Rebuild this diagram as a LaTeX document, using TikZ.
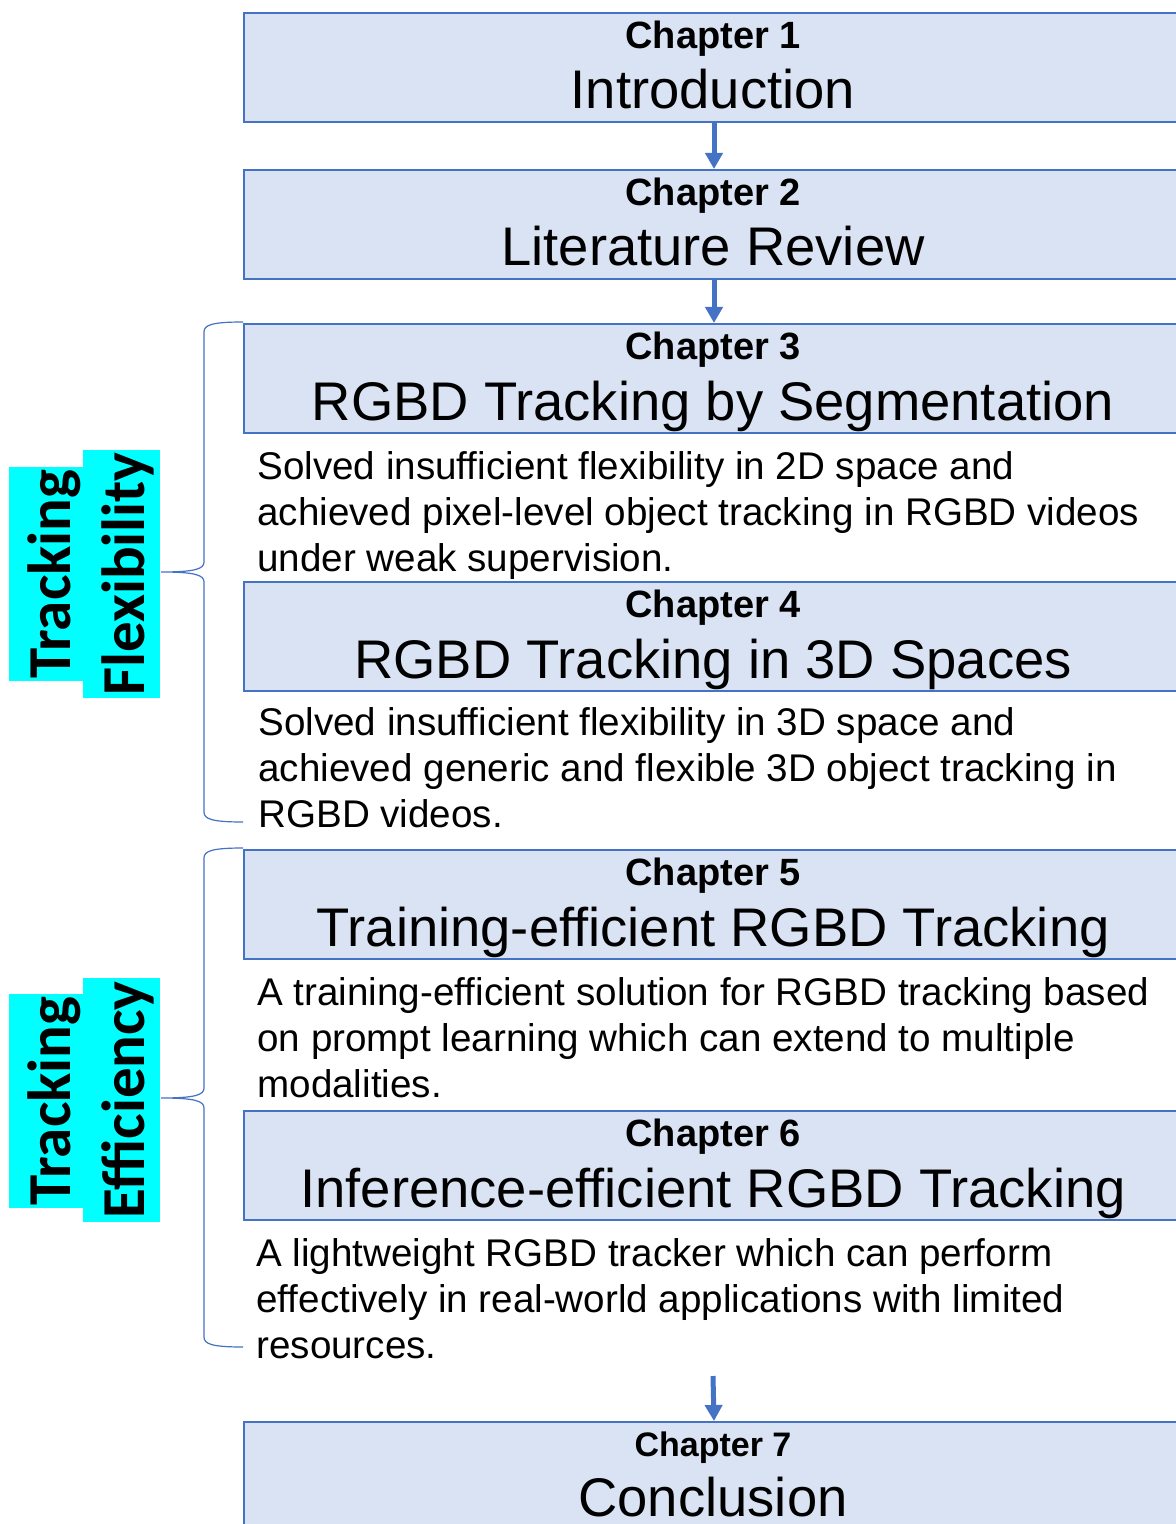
\documentclass[tikz,border=0pt]{standalone}
\usepackage{fontspec}
\setmainfont{Liberation Sans}
\newfontfamily\labelfont{Carlito}
\usetikzlibrary{arrows.meta}
\definecolor{boxblue}{HTML}{4472C4}
\definecolor{boxfill}{HTML}{DAE3F3}
\definecolor{hilite}{HTML}{00FFFF}
% three lines stacked, baseline of the whole block = baseline of the first line
\newcommand\desclines[3]{\vtop{\baselineskip=23.2pt\relax\hbox{#1}\hbox{#2}\hbox{#3}}}
\begin{document}
\begin{tikzpicture}[x=0.5pt,y=-0.5pt,
  chapbox/.style={draw=boxblue, line width=1pt, fill=boxfill, minimum width=470pt,
    minimum height=54.5pt, inner sep=0pt, anchor=north west},
  chapnum/.style={anchor=base, inner sep=0pt, font=\fontsize{19}{22}\selectfont\bfseries},
  chaptitle/.style={anchor=base, inner sep=0pt, font=\fontsize{27.2}{30}\selectfont},
  desc/.style={anchor=base west, inner sep=0pt, font=\fontsize{19.3}{23.2}\selectfont},
  flow/.style={draw=boxblue, line width=2.5pt, -{Triangle[length=8pt,width=8.5pt]}},
  bracket/.style={draw=boxblue, line width=0.6pt},
  tag/.style={rotate=90, anchor=base, fill=hilite, inner sep=0pt, text height=30.5pt,
    font=\labelfont\fontsize{30.5}{36}\selectfont\bfseries},
]
\path[use as bounding box, clip] (0,0) rectangle (1176,1524);
\fill[white] (0,0) rectangle (1176,1524);

% chapter boxes
\node[chapbox] (b1) at (243,12) {};
\node[chapnum] (n1) at (713,48.5) {Chapter 1};
\node[chaptitle] (t1) at (713,109) {Introduction};

\node[chapbox] (b2) at (243,169) {};
\node[chapnum] (n2) at (713,205.5) {Chapter 2};
\node[chaptitle] (t2) at (713,266) {Literature Review};

\node[chapbox] (b3) at (243,323) {};
\node[chapnum] (n3) at (713,359.5) {Chapter 3};
\node[chaptitle] (t3) at (713,420) {RGBD Tracking by Segmentation};

\node[chapbox] (b4) at (243,581) {};
\node[chapnum] (n4) at (713,617.5) {Chapter 4};
\node[chaptitle] (t4) at (713,678) {RGBD Tracking in 3D Spaces};

\node[chapbox] (b5) at (243,849) {};
\node[chapnum] (n5) at (713,885.5) {Chapter 5};
\node[chaptitle] (t5) at (713,946) {Training-efficient RGBD Tracking};

\node[chapbox] (b6) at (243,1110) {};
\node[chapnum] (n6) at (713,1146.5) {Chapter 6};
\node[chaptitle] (t6) at (713,1207) {Inference-efficient RGBD Tracking};

\node[chapbox] (b7) at (243,1421) {};
\node[chapnum, font=\fontsize{17}{20}\selectfont\bfseries] (n7) at (713,1456) {Chapter 7};
\node[chaptitle] (t7) at (713,1516) {Conclusion};

% chapter summaries
\node[desc] (d3) at (257,479) {\desclines
  {Solved insufficient flexibility in 2D space and}
  {achieved pixel-level object tracking in RGBD videos}
  {under weak supervision.}};
\node[desc] (d4) at (258,735) {\desclines
  {Solved insufficient flexibility in 3D space and}
  {achieved generic and flexible 3D object tracking in}
  {RGBD videos.}};
\node[desc] (d5) at (257,1005) {\desclines
  {A training-efficient solution for RGBD tracking based}
  {on prompt learning which can extend to multiple}
  {modalities.}};
\node[desc] (d6) at (256,1266) {\desclines
  {A lightweight RGBD tracker which can perform}
  {effectively in real-world applications with limited}
  {resources.}};

% flow arrows
\draw[flow] (b1.south) -- (b2.north);
\draw[flow] (b2.south) -- (b3.north);
\coordinate (a7) at (713,1376);
\draw[flow] (a7) -- (b7.north);

% grouping labels
\node[tag, minimum width=107pt, text depth=6.5pt] (g1a) at (70,574) {Tracking};
\node[tag, minimum width=124pt, text depth=8pt] (g1b) at (144,574) {Flexibility};
\node[tag, minimum width=107pt, text depth=6.5pt] (g2a) at (70,1101) {Tracking};
\node[tag, minimum width=122pt, text depth=8pt] (g2b) at (144,1100) {Efficiency};

% curly brackets grouping chapters 3-4 and 5-6
\draw[bracket] (243,322) .. controls (212,322) and (204,325) .. (204,332)
  -- (204,562) .. controls (204,569) and (195,572) .. (161,572)
  .. controls (195,572) and (204,575) .. (204,582)
  -- (204,812) .. controls (204,819) and (212,822) .. (243,822);
\draw[bracket] (243,848) .. controls (212,848) and (204,851) .. (204,858)
  -- (204,1088) .. controls (204,1095) and (195,1098) .. (161,1098)
  .. controls (195,1098) and (204,1101) .. (204,1108)
  -- (204,1337) .. controls (204,1344) and (212,1347) .. (243,1347);
\end{tikzpicture}
\end{document}
